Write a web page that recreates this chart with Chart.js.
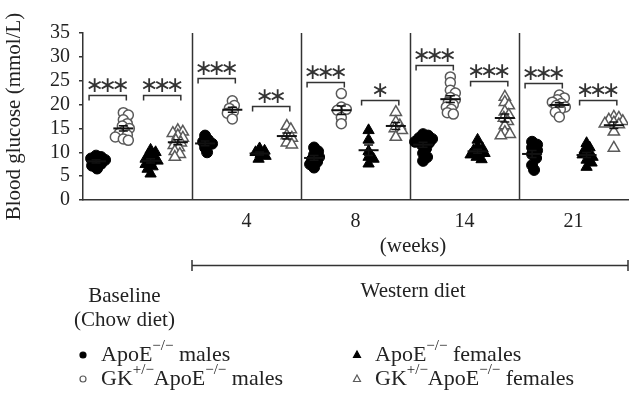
<!DOCTYPE html>
<html>
<head>
<meta charset="utf-8">
<title>Blood glucose</title>
<script src="https://cdn.jsdelivr.net/npm/chart.js@4.4.1/dist/chart.umd.min.js"></script>
<style>
  html, body { margin: 0; padding: 0; background: #fff; }
  #wrap { width: 644px; height: 408px; }
</style>
</head>
<body>
<div id="wrap"><canvas id="chart" width="644" height="408"></canvas></div>
<script>
// time points (first one is the chow-diet baseline, no tick label)
const groupLabels = ['', '4', '8', '14', '21'];
const yTicks = [0, 5, 10, 15, 20, 25, 30, 35];

// individual animals, one list per time point
const apoeMales = [
  [9.3, 9.0, 8.7, 8.4, 8.0, 7.6, 7.2, 6.6],
  [13.5, 12.6, 12.2, 11.8, 11.0, 10.0],
  [11.0, 10.2, 9.5, 9.0, 8.5, 8.0, 7.5, 6.8],
  [13.8, 13.5, 13.0, 12.8, 12.5, 12.2, 12.0, 11.5, 10.8, 9.8, 9.0, 8.2],
  [12.2, 11.6, 11.0, 10.4, 9.6, 8.8, 7.3, 6.3]
];
const gkMales = [
  [18.3, 17.8, 16.8, 16.0, 15.5, 15.0, 14.5, 14.0, 13.6, 13.2, 12.8, 12.5],
  [20.8, 19.8, 19.2, 18.5, 18.2, 17.0],
  [22.3, 19.5, 19.0, 18.8, 17.3, 16.0],
  [25.8, 24.6, 23.0, 22.4, 21.5, 21.0, 20.5, 20.0, 19.5, 19.0, 18.3, 18.0],
  [22.0, 21.4, 21.0, 20.5, 20.2, 19.8, 19.5, 19.0, 18.4, 17.4]
];
const apoeFemales = [
  [10.5, 10.0, 9.5, 9.0, 8.6, 8.2, 8.0, 7.5, 7.0, 6.5, 5.5],
  [10.8, 10.3, 10.0, 9.6, 9.2, 8.6],
  [14.6, 12.6, 10.2, 9.0, 8.6, 7.6],
  [12.6, 11.2, 10.8, 10.4, 10.0, 9.8, 9.5, 9.0, 8.5],
  [11.9, 11.0, 10.5, 9.8, 9.5, 9.0, 8.4, 7.8, 6.9]
];
const gkFemales = [
  [14.6, 14.3, 14.0, 13.5, 13.0, 12.5, 12.0, 11.5, 11.0, 10.2, 9.6, 9.0],
  [15.5, 14.8, 13.5, 13.0, 12.0, 11.6],
  [18.4, 16.3, 15.6, 15.0, 14.6, 13.2],
  [21.6, 20.5, 19.8, 18.5, 17.8, 17.2, 16.5, 15.6, 14.2, 13.8, 13.5],
  [17.4, 17.2, 16.8, 16.5, 16.2, 16.0, 15.8, 14.3, 10.9]
];

// significance: [males, females] per time point, and the bracket level (mmol/L)
const maleStars = ['***', '***', '***', '***', '***'];
const femaleStars = ['***', '**', '*', '***', '***'];
const maleBracket = [22, 25.6, 24.7, 28.3, 24.5];
const femaleBracket = [22, 19.7, 21, 25, 21];

const FONT = 'Liberation Serif';
const INK = '#222';
const LINE = '#333';
const OPEN = '#5a5a5a';

// where each series sits inside its time-point slot (fraction of slot)
const slotOffsets = [0.12, 0.37, 0.62, 0.87];

// rough px per unit, only used to spread overlapping points sideways
const PX_X = 109;
const PX_Y = 167 / 35;

// small beeswarm: nudge points sideways (max +-9 px) so they don't stack exactly
function swarm(values, center, minDist) {
  const placed = [];
  const out = [];
  const order = values.map((v, i) => i).sort((a, b) => values[b] - values[a]);
  const cands = [0];
  for (let k = 1; k <= 9; k++) cands.push(k, -k);
  order.forEach(i => {
    const py = values[i] * PX_Y;
    let best = 0, bestD = -1;
    for (const c of cands) {
      const d = placed.length ? Math.min(...placed.map(p => Math.hypot(p.dx - c, p.py - py))) : Infinity;
      if (d >= minDist) { best = c; break; }
      if (d > bestD) { bestD = d; best = c; }
    }
    placed.push({ dx: best, py });
    out[i] = { x: center + best / PX_X, y: values[i] };
  });
  return out;
}

function points(series, s) {
  return series.flatMap((vals, g) => swarm(vals, g + slotOffsets[s], 5));
}

const mean = a => a.reduce((t, v) => t + v, 0) / a.length;
function sem(a) {
  const m = mean(a);
  const sd = Math.sqrt(a.reduce((t, v) => t + (v - m) * (v - m), 0) / (a.length - 1));
  return sd / Math.sqrt(a.length);
}

const allSeries = [apoeMales, gkMales, apoeFemales, gkFemales];

// rich text with superscripts: parts = [[text, isSup], ...]
function richText(ctx, x, y, parts, size) {
  let cx = x;
  parts.forEach(([t, sup]) => {
    ctx.font = (sup ? Math.round(size * 0.68) : size) + 'px "' + FONT + '"';
    ctx.fillText(t, cx, sup ? y - size * 0.42 : y);
    cx += ctx.measureText(t).width;
  });
}

const decor = {
  id: 'decor',
  beforeDatasetsDraw(chart) {
    const { ctx, chartArea, scales: { x } } = chart;
    ctx.save();
    ctx.strokeStyle = LINE;
    ctx.lineWidth = 1.5;
    for (let g = 1; g < groupLabels.length; g++) {
      const px = Math.round(x.getPixelForValue(g)) + 0.5;
      ctx.beginPath();
      ctx.moveTo(px, chartArea.top);
      ctx.lineTo(px, chartArea.bottom);
      ctx.stroke();
    }
    ctx.restore();
  },
  afterDatasetsDraw(chart) {
    const { ctx, scales: { x, y } } = chart;
    ctx.save();
    // mean +/- SEM
    ctx.strokeStyle = '#111';
    allSeries.forEach((series, s) => {
      series.forEach((vals, g) => {
        const cx = x.getPixelForValue(g + slotOffsets[s]);
        const m = mean(vals), e = sem(vals);
        const ym = y.getPixelForValue(m);
        const yt = y.getPixelForValue(m + e), yb = y.getPixelForValue(m - e);
        ctx.lineWidth = 2;
        ctx.beginPath();
        ctx.moveTo(cx - 10, ym); ctx.lineTo(cx + 10, ym);
        ctx.stroke();
        ctx.lineWidth = 1.5;
        ctx.beginPath();
        ctx.moveTo(cx, yt); ctx.lineTo(cx, yb);
        ctx.moveTo(cx - 4.5, yt); ctx.lineTo(cx + 4.5, yt);
        ctx.moveTo(cx - 4.5, yb); ctx.lineTo(cx + 4.5, yb);
        ctx.stroke();
      });
    });
    // brackets with stars
    ctx.strokeStyle = LINE;
    ctx.fillStyle = LINE;
    ctx.lineWidth = 1.5;
    ctx.textAlign = 'center';
    ctx.textBaseline = 'middle';
    ctx.font = '22px "DejaVu Sans"';
    const bracket = (g, a, b, level, label) => {
      const x0 = x.getPixelForValue(g + slotOffsets[a]) - 7;
      const x1 = x.getPixelForValue(g + slotOffsets[b]) + 3;
      const by = Math.round(y.getPixelForValue(level)) + 0.5;
      ctx.beginPath();
      ctx.moveTo(x0, by + 5); ctx.lineTo(x0, by); ctx.lineTo(x1, by); ctx.lineTo(x1, by + 5);
      ctx.stroke();
      const n = label.length, gap = 13, mid = (x0 + x1) / 2;
      for (let i = 0; i < n; i++) {
        ctx.fillText('\u2217', mid + (i - (n - 1) / 2) * gap, by - 9);
      }
    };
    groupLabels.forEach((l, g) => {
      bracket(g, 0, 1, maleBracket[g], maleStars[g]);
      bracket(g, 2, 3, femaleBracket[g], femaleStars[g]);
    });
    ctx.restore();
  },
  afterDraw(chart) {
    const { ctx, scales: { x } } = chart;
    ctx.save();
    ctx.fillStyle = INK;
    ctx.textAlign = 'center';
    ctx.textBaseline = 'middle';
    ctx.font = '21px "' + FONT + '"';
    const wx0 = x.getPixelForValue(1), wx1 = x.getPixelForValue(5);
    const wmid = (wx0 + wx1) / 2 + 3;
    ctx.fillText('(weeks)', wmid, 246);
    ctx.fillText('Western diet', wmid, 291);
    const bmid = x.getPixelForValue(0.38);
    ctx.fillText('Baseline', bmid, 296);
    ctx.fillText('(Chow diet)', bmid, 320);
    // western diet span
    ctx.strokeStyle = LINE;
    ctx.lineWidth = 1.5;
    ctx.beginPath();
    ctx.moveTo(wx0, 265.5); ctx.lineTo(wx1, 265.5);
    ctx.moveTo(wx0, 260); ctx.lineTo(wx0, 271);
    ctx.moveTo(wx1, 260); ctx.lineTo(wx1, 271);
    ctx.stroke();

    // legend
    ctx.textAlign = 'left';
    ctx.textBaseline = 'middle';
    const rows = [355, 379];
    const items = [
      { mx: 83, y: rows[0], style: 'circle', fill: true, parts: [['ApoE'], ['\u2212/\u2212', true], [' males']] },
      { mx: 83, y: rows[1], style: 'circle', fill: false, parts: [['GK'], ['+/\u2212', true], ['ApoE'], ['\u2212/\u2212', true], [' males']] },
      { mx: 357, y: rows[0], style: 'triangle', fill: true, parts: [['ApoE'], ['\u2212/\u2212', true], [' females']] },
      { mx: 357, y: rows[1], style: 'triangle', fill: false, parts: [['GK'], ['+/\u2212', true], ['ApoE'], ['\u2212/\u2212', true], [' females']] }
    ];
    items.forEach(it => {
      ctx.fillStyle = it.fill ? '#000' : '#fff';
      ctx.strokeStyle = it.fill ? '#000' : OPEN;
      ctx.lineWidth = 1.2;
      ctx.beginPath();
      if (it.style === 'circle') {
        ctx.arc(it.mx, it.y, 3, 0, Math.PI * 2);
      } else {
        ctx.moveTo(it.mx, it.y - 4); ctx.lineTo(it.mx + 3.5, it.y + 2.5); ctx.lineTo(it.mx - 3.5, it.y + 2.5); ctx.closePath();
      }
      ctx.fill();
      ctx.stroke();
      ctx.fillStyle = INK;
      richText(ctx, it.mx + 18, it.y, it.parts, 22);
    });
    ctx.restore();
  }
};

const datasets = [
  { label: 'ApoE-/- males', data: points(apoeMales, 0), pointStyle: 'circle', pointRadius: 5.5,
    backgroundColor: '#000', borderColor: '#000', borderWidth: 1 },
  { label: 'GK+/-ApoE-/- males', data: points(gkMales, 1), pointStyle: 'circle', pointRadius: 5,
    backgroundColor: '#fff', borderColor: OPEN, borderWidth: 1.5 },
  { label: 'ApoE-/- females', data: points(apoeFemales, 2), pointStyle: 'triangle', pointRadius: 6.5,
    backgroundColor: '#000', borderColor: '#000', borderWidth: 1 },
  { label: 'GK+/-ApoE-/- females', data: points(gkFemales, 3), pointStyle: 'triangle', pointRadius: 6.5,
    backgroundColor: '#fff', borderColor: OPEN, borderWidth: 1.5 }
];

new Chart(document.getElementById('chart'), {
  type: 'scatter',
  data: { datasets },
  options: {
    responsive: false,
    animation: false,
    devicePixelRatio: 1,
    layout: { padding: { left: 0, top: 33, right: 16, bottom: 0 } },
    plugins: { legend: { display: false }, tooltip: { enabled: false } },
    scales: {
      x: {
        type: 'linear',
        min: 0,
        max: groupLabels.length,
        afterBuildTicks: s => { s.ticks = groupLabels.map((l, i) => ({ value: i + 0.5 })); },
        ticks: {
          callback: (v, i) => groupLabels[i],
          autoSkip: false, maxRotation: 0, padding: 10,
          color: INK, font: { family: FONT, size: 20 }
        },
        grid: { display: false, drawTicks: false },
        border: { display: true, color: LINE, width: 1.5 },
        afterFit: s => { s.height = 208; }
      },
      y: {
        min: 0,
        max: 35,
        afterBuildTicks: s => { s.ticks = yTicks.map(v => ({ value: v })); },
        ticks: { autoSkip: false, padding: 9, color: INK, font: { family: FONT, size: 20 } },
        grid: { display: true, drawOnChartArea: false, drawTicks: true, tickLength: 4, color: LINE, lineWidth: 1.5 },
        border: { display: true, color: LINE, width: 1.5 },
        title: {
          display: true, text: 'Blood glucose (mmol/L)', color: INK,
          font: { family: FONT, size: 21 }, padding: { top: 2, bottom: 0 }
        },
        afterFit: s => { s.width = 83; }
      }
    }
  },
  plugins: [decor]
});
</script>
</body>
</html>
